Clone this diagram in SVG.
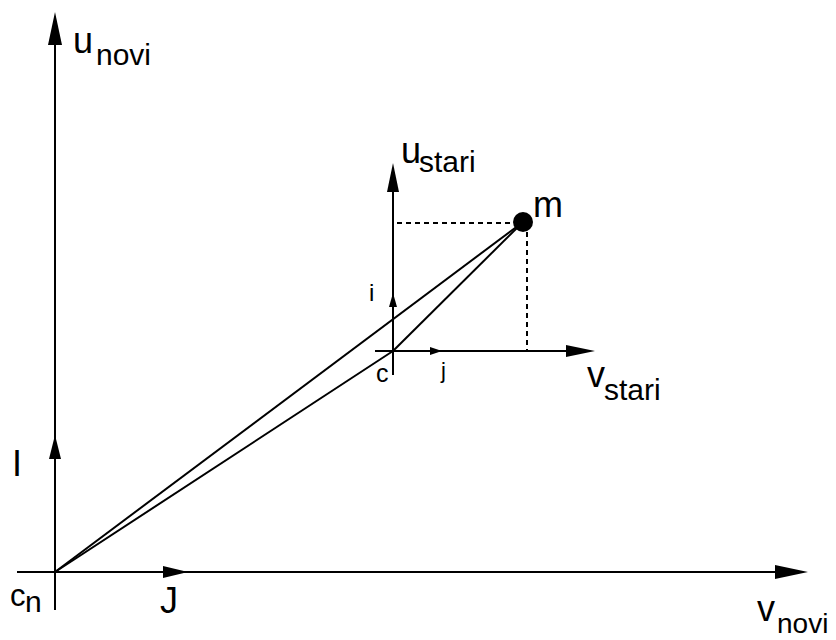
<svg xmlns="http://www.w3.org/2000/svg" width="836" height="640" viewBox="0 0 836 640">
<style>
.ax{stroke:#000;stroke-width:2;fill:none}
.dash{stroke:#000;stroke-width:2;fill:none;stroke-dasharray:5,4}
.head{fill:#000;stroke:none}
.lbl{font-family:"Liberation Sans",Arial,sans-serif;fill:#000}
</style>
<rect width="836" height="640" fill="#fff"/>
<g id="novi-frame">
<line class="ax" x1="55" y1="40" x2="55" y2="610"/>
<polygon class="head" points="55,12 48,45 62,45"/>
<line class="ax" x1="17" y1="572" x2="780" y2="572"/>
<polygon class="head" points="808,572 775,565 775,579"/>
<polygon class="head" points="55,435 49,459 61,459"/>
<polygon class="head" points="188,572 163,566 163,578"/>
<text class="lbl" x="73" y="53" font-size="36">u</text>
<text class="lbl" x="96" y="65" font-size="30">novi</text>
<text class="lbl" x="757" y="621" font-size="36">v</text>
<text class="lbl" x="777" y="633" font-size="28">novi</text>
<text class="lbl" x="12" y="476" font-size="36">I</text>
<text class="lbl" x="160" y="613" font-size="36">J</text>
<text class="lbl" x="10" y="606" font-size="31">c</text>
<text class="lbl" x="25" y="612" font-size="30">n</text>
</g>
<g id="stari-frame">
<line class="ax" x1="393" y1="185" x2="393" y2="375"/>
<polygon class="head" points="393,163 387,192 399,192"/>
<line class="ax" x1="375" y1="351" x2="572" y2="351"/>
<polygon class="head" points="595,351 566,345 566,357"/>
<polygon class="head" points="393,293 389,307 397,307"/>
<polygon class="head" points="442,351 430,347 430,355"/>
<text class="lbl" x="401" y="163" font-size="36">u</text>
<text class="lbl" x="419" y="172" font-size="30">stari</text>
<text class="lbl" x="587" y="387" font-size="36">v</text>
<text class="lbl" x="604" y="400" font-size="30">stari</text>
<text class="lbl" x="369" y="301" font-size="24">i</text>
<text class="lbl" x="376" y="382" font-size="25">c</text>
<text class="lbl" x="441" y="378" font-size="22">j</text>
</g>
<g id="point-m">
<circle cx="523" cy="222" r="10" fill="#000"/>
<text class="lbl" x="533" y="217" font-size="36">m</text>
</g>
<g id="connectors">
<line class="ax" x1="55" y1="572" x2="523" y2="222"/>
<line class="ax" x1="55" y1="572" x2="393" y2="351"/>
<line class="ax" x1="393" y1="351" x2="523" y2="222"/>
<line class="dash" x1="397" y1="223" x2="515" y2="223"/>
<line class="dash" x1="527" y1="232" x2="527" y2="351"/>
</g>
</svg>
